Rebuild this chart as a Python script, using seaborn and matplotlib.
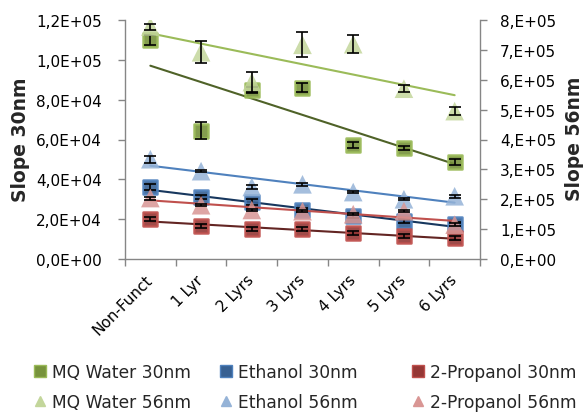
import numpy as np
import pandas as pd
import matplotlib
matplotlib.use("Agg")
import matplotlib.pyplot as plt
import seaborn as sns
from matplotlib.lines import Line2D

# ---------------- data ----------------
categories = ["Non-Funct", "1 Lyr", "2 Lyrs", "3 Lyrs", "4 Lyrs", "5 Lyrs", "6 Lyrs"]

mq_30 = [1.10e5, 6.45e4, 8.5e4, 8.6e4, 5.7e4, 5.55e4, 4.85e4]
mq_30_err = [2.5e3, 4.2e3, 1.5e3, 2.3e3, 1.5e3, 1.0e3, 1.5e3]
eth_30 = [3.6e4, 3.1e4, 2.85e4, 2.45e4, 2.15e4, 1.9e4, 1.75e4]
eth_30_err = [1.5e3, 1.0e3, 1.5e3, 1.0e3, 1.0e3, 1.0e3, 1.0e3]
prop_30 = [2.0e4, 1.65e4, 1.5e4, 1.5e4, 1.3e4, 1.15e4, 1.05e4]
prop_30_err = [1.0e3, 1.0e3, 1.0e3, 1.0e3, 1.0e3, 1.0e3, 1.0e3]

mq_56 = [7.78e5, 6.92e5, 5.92e5, 7.17e5, 7.19e5, 5.7e5, 4.95e5]
mq_56_err = [1.0e4, 3.7e4, 3.3e4, 4.2e4, 3.0e4, 1.2e4, 1.3e4]
eth_56 = [3.34e5, 2.94e5, 2.41e5, 2.5e5, 2.24e5, 2.0e5, 2.1e5]
eth_56_err = [1.2e4, 4e3, 6e3, 6e3, 4e3, 4e3, 5e3]
prop_56 = [2.04e5, 1.8e5, 1.64e5, 1.6e5, 1.5e5, 1.6e5, 1.15e5]
prop_56_err = [5e3, 4e3, 4e3, 4e3, 4e3, 4e3, 4e3]

left_ticks = [0, 2e4, 4e4, 6e4, 8e4, 1e5, 1.2e5]
left_labels = ["0,0E+00", "2,0E+04", "4,0E+04", "6,0E+04", "8,0E+04", "1,0E+05", "1,2E+05"]
right_ticks = [0, 1e5, 2e5, 3e5, 4e5, 5e5, 6e5, 7e5, 8e5]
right_labels = ["0,E+00", "1,E+05", "2,E+05", "3,E+05", "4,E+05", "5,E+05", "6,E+05", "7,E+05", "8,E+05"]

labels_30 = ["MQ Water 30nm", "Ethanol 30nm", "2-Propanol 30nm"]
labels_56 = ["MQ Water 56nm", "Ethanol 56nm", "2-Propanol 56nm"]

# ---------------- style ----------------
sns.set_theme(style="white")
plt.rcParams['font.family'] = ['DejaVu Sans']
FS = 11
LFS = 12.3
GRAY = "#868686"

sq_fill = ["#77933C", "#376092", "#953735"]
sq_edge = ["#9BBB59", "#4F81BD", "#C0504D"]
tri_fill = ["#C3D69B", "#95B3D7", "#D99694"]
line_30 = ["#4F6228", "#17375E", "#632523"]
line_56 = ["#9BBB59", "#4F81BD", "#C0504D"]

fig = plt.figure(figsize=(5.88, 4.14), dpi=100)
fig.patch.set_facecolor("white")
W, H = 588, 414
ax = fig.add_axes([125 / W, 1 - 260 / H, (480 - 125) / W, (260 - 21) / H])
ax2 = ax.twinx()

x = np.arange(len(categories))
series30 = [(mq_30, mq_30_err), (eth_30, eth_30_err), (prop_30, prop_30_err)]
series56 = [(mq_56, mq_56_err), (eth_56, eth_56_err), (prop_56, prop_56_err)]

for i, (vals, err) in enumerate(series30):
    df = pd.DataFrame({"x": x, "y": vals})
    sns.regplot(data=df, x="x", y="y", ax=ax, scatter=False, ci=None, truncate=True,
                line_kws=dict(color=line_30[i], lw=1.5, zorder=2))
    sns.scatterplot(data=df, x="x", y="y", ax=ax, marker="s", s=95, color=sq_fill[i],
                    edgecolor=sq_edge[i], linewidth=1.8, alpha=0.9, zorder=3, legend=False)
    ax.errorbar(x, vals, yerr=err, fmt="none", ecolor="black", elinewidth=1.2,
                capsize=4, capthick=1.2, zorder=4)

for i, (vals, err) in enumerate(series56):
    df = pd.DataFrame({"x": x, "y": vals})
    sns.regplot(data=df, x="x", y="y", ax=ax2, scatter=False, ci=None, truncate=True,
                line_kws=dict(color=line_56[i], lw=1.5, zorder=2))
    sns.scatterplot(data=df, x="x", y="y", ax=ax2, marker="^", s=180, color=tri_fill[i],
                    edgecolor="none", linewidth=0, alpha=0.85, zorder=3, legend=False)
    ax2.errorbar(x, vals, yerr=err, fmt="none", ecolor="black", elinewidth=1.2,
                 capsize=4, capthick=1.2, zorder=4)

# ---------------- axes ----------------
ax.set_xlim(-0.5, len(categories) - 0.5)
ax.set_ylim(0, 1.2e5)
ax2.set_ylim(0, 8e5)
ax.set_xlabel("")
ax2.set_xlabel("")

ax.set_yticks(left_ticks)
ax.set_yticklabels(left_labels, fontsize=FS, color="black")
ax2.set_yticks(right_ticks)
ax2.set_yticklabels(right_labels, fontsize=FS, color="black")

ax.set_xticks(x)
ax.set_xticklabels(categories, fontsize=FS, rotation=45, ha="right", va="center",
                   rotation_mode="anchor", color="black")
ax.set_xticks(np.arange(-0.5, len(categories), 1.0), minor=True)
ax.tick_params(axis="x", which="major", length=0, pad=13)
ax.tick_params(axis="x", which="minor", length=5, width=1, color=GRAY, direction="out", bottom=True)
ax.tick_params(axis="y", which="major", length=5, width=1, color=GRAY, direction="out",
               pad=11.5, left=True, right=False)
ax2.tick_params(axis="y", which="major", length=5, width=1, color=GRAY, direction="out",
                pad=9.4, right=True, left=False)

for a in (ax, ax2):
    a.grid(False)
    for side in ("left", "right", "bottom"):
        a.spines[side].set_color(GRAY)
        a.spines[side].set_linewidth(1)
    a.spines["top"].set_visible(False)
ax.spines["right"].set_visible(False)
ax2.spines["left"].set_visible(False)
ax2.spines["bottom"].set_visible(False)

ax.set_ylabel("Slope 30nm", fontsize=13.5, fontweight="bold", rotation=90, ha="center", va="center")
ax.yaxis.set_label_coords((21 - 125) / 355, (260 - 140) / 239)
ax2.set_ylabel("Slope 56nm", fontsize=13.5, fontweight="bold", rotation=90, ha="center", va="center")
ax2.yaxis.set_label_coords((575 - 125) / 355, (260 - 139) / 239)

# ---------------- legend (three columns) ----------------
col_x = [33, 219, 411]
for i in range(3):
    handles = [
        Line2D([], [], marker="s", linestyle="none", markersize=8.5,
               markerfacecolor=sq_fill[i], markeredgecolor=sq_edge[i], markeredgewidth=1),
        Line2D([], [], marker="^", linestyle="none", markersize=7,
               markerfacecolor=tri_fill[i], markeredgecolor=tri_fill[i]),
    ]
    fig.legend(handles, [labels_30[i], labels_56[i]], loc="upper left",
               bbox_to_anchor=(col_x[i] / W, 1 - 364 / H), frameon=False,
               fontsize=LFS, handlelength=0.8, handletextpad=0.3,
               labelspacing=0.72, borderpad=0, borderaxespad=0)

fig.savefig("out.png", dpi=100, facecolor="white")
